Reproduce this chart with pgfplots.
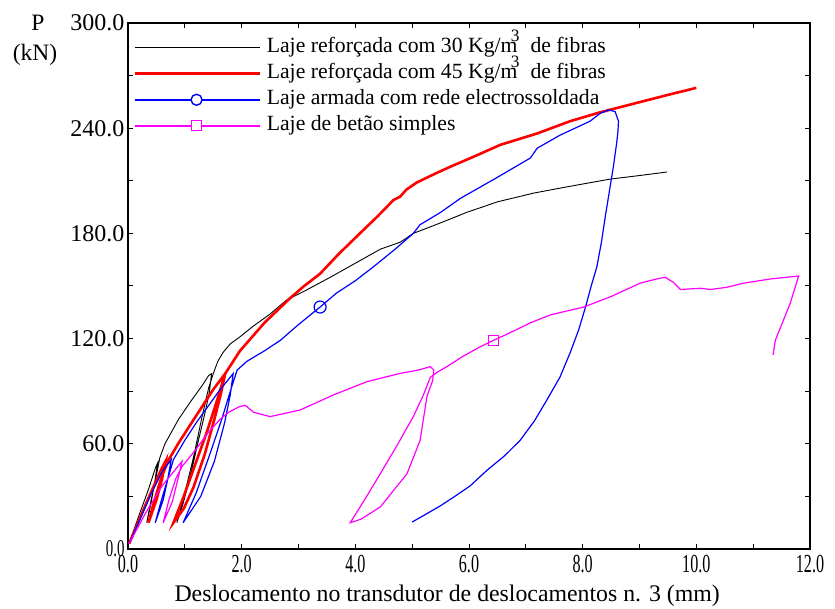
\documentclass[border=0pt]{standalone}
\usepackage{fontspec}
\setmainfont{Liberation Serif}
\usepackage{pgfplots}
\pgfplotsset{compat=1.18}

\definecolor{mag}{RGB}{255,0,255}
\definecolor{blu}{RGB}{0,0,255}
\definecolor{rd}{RGB}{255,0,0}

\pgfplotsset{
  longline/.style={legend image code/.code={\draw[##1] (0pt,0pt)--(125pt,0pt); \path (130pt,0pt);}},
  circleline/.style={legend image code/.code={\draw[##1,line width=1.5pt] (0pt,0pt)--(125pt,0pt);
     \draw[##1,line width=1.4pt,fill=white] (62pt,0pt) circle (5.5pt); \path (130pt,0pt);}},
  squareline/.style={legend image code/.code={\draw[##1,line width=1.5pt] (0pt,0pt)--(125pt,0pt);
     \draw[##1,line width=1.4pt,fill=white] (57pt,-5pt) rectangle (67pt,5pt); \path (130pt,0pt);}},
}

\newcommand{\kgm}{Kg/m\hspace{-0.3em}\smash{\raisebox{0.5em}{\scalebox{0.8}{3}}}\hspace{0.5em}}
\newcommand{\narrow}[1]{\scalebox{0.62}[1]{#1}}

\begin{document}
\begin{tikzpicture}
\useasboundingbox (0,0) rectangle (835pt,608pt);
\begin{axis}[
    at={(128pt,59pt)}, anchor=south west,
    scale only axis, width=682pt, height=526pt,
    xmin=0, xmax=12, ymin=0, ymax=300,
    xtick={0,2,...,12}, ytick={0,60,...,300},
    minor x tick num=1, minor y tick num=1,
    tick align=inside, major tick length=5pt, minor tick length=5pt,
    axis line style={line width=1.5pt},
    tick style={line width=1pt, black},
    scaled ticks=false,
    xticklabel={\narrow{\pgfmathprintnumber[fixed,fixed zerofill,precision=1,assume math mode=true]{\tick}}},
    xticklabel style={font=\fontsize{26}{28}\selectfont, yshift=-3pt},
    yticklabels={\narrow{0.0},60.0,120.0,180.0,240.0,300.0},
    yticklabel style={font=\fontsize{24}{26}\selectfont},
    xlabel={Deslocamento no transdutor de deslocamentos n. 3 (mm)},
    xlabel style={at={(0.468,-0.089)}, anchor=center, font=\fontsize{23.8}{26}\selectfont},
    legend cell align=left,
    legend style={draw=none, fill=none, at={(0.003,0.978)}, anchor=north west,
        row sep=4pt, font=\fontsize{21.7}{25}\selectfont,
        nodes={inner sep=1pt, text height=15pt, text depth=5pt}},
]
% 30 kg/m3
\addplot[black, line width=0.9pt, longline]
coordinates {
(0.02,3) (0.18,18) (0.36,34) (0.48,46) (0.52,49) (0.47,38) (0.4,25) (0.33,15)
(0.4,27) (0.5,42) (0.56,52) (0.65,60) (0.89,74) (1.1,84) (1.3,93) (1.42,99)
(1.47,100) (1.43,89) (1.35,77) (1.24,62) (1.1,42) (0.97,26) (0.86,15)
(1.0,32) (1.15,52) (1.3,75) (1.42,92) (1.5,100) (1.58,107) (1.67,112) (1.8,117)
(1.97,121) (2.2,127) (2.5,134) (2.79,142) (3.1,147) (3.56,155) (4.0,163) (4.44,171)
(4.79,175) (5.02,180) (5.5,186) (5.96,192) (6.5,198) (7.14,203) (7.8,207)
(8.49,211) (9.0,213) (9.48,215)
};
\addlegendentry{Laje reforçada com 30 \kgm de fibras}
% 45 kg/m3
\addplot[rd, line width=2.6pt, longline]
coordinates {
(0.02,3) (0.2,17) (0.4,32) (0.58,45) (0.66,50) (0.6,40) (0.5,28) (0.36,15)
(0.46,27) (0.58,40) (0.7,50) (0.9,61) (1.1,71) (1.3,81) (1.5,91) (1.71,100)
(1.63,88) (1.52,74) (1.35,54) (1.15,35) (0.98,23) (0.8,15)
(0.98,30) (1.18,48) (1.38,66) (1.55,83) (1.71,100) (1.97,113) (2.4,129)
(2.85,143) (3.1,150) (3.38,157) (3.7,168) (4.08,180) (4.4,190) (4.67,199) (4.79,201)
(4.9,205) (5.08,209) (5.4,214) (5.67,218) (6.1,224) (6.55,230.5) (7.2,237)
(7.78,244) (8.3,249) (8.9,254) (9.5,259) (10.0,263)
};
\addlegendentry{Laje reforçada com 45 \kgm de fibras}
% electrowelded mesh
\addplot[blu, line width=1.2pt, circleline]
coordinates {
(0.02,3) (0.2,16) (0.4,31) (0.6,44) (0.76,51) (0.7,40) (0.62,28) (0.48,15)
(0.58,27) (0.7,40) (0.8,51) (1.0,62) (1.2,72) (1.4,81) (1.6,90) (1.75,96)
(1.85,100) (1.8,88) (1.7,72) (1.52,50) (1.28,30) (0.97,15)
(1.2,32) (1.45,55) (1.66,75) (1.8,90) (1.92,102) (2.09,107) (2.4,113)
(2.68,119) (3.0,128) (3.38,138) (3.67,146) (4.0,153) (4.32,161) (4.7,171)
(5.02,180) (5.14,185) (5.5,192) (5.85,200) (6.5,212) (7.08,223) (7.2,228.6)
(7.6,236) (8.13,244) (8.31,248.5) (8.46,250.4) (8.57,249.5) (8.63,244)
(8.62,238) (8.6,232) (8.54,218) (8.47,204) (8.4,190) (8.33,175) (8.25,161)
(8.15,150) (8.05,138) (7.93,125) (7.78,112) (7.6,98) (7.37,85) (7.15,73)
(6.9,62) (6.62,53) (6.32,45) (6.02,36) (5.75,30) (5.49,24.5) (5.25,20) (5.0,15.4)
};
\addlegendentry{Laje armada com rede electrossoldada}
% plain concrete
\addplot[mag, line width=1.2pt, squareline]
coordinates {
(0.02,3) (0.3,20) (0.6,36) (0.85,46) (0.95,50) (0.88,40) (0.78,27) (0.62,15)
(0.72,28) (0.84,40) (0.95,47) (1.2,57) (1.4,66) (1.62,74) (1.77,78) (1.95,81)
(2.06,82) (2.21,78) (2.5,75.5) (3.03,79.3) (3.61,87.8) (4.2,95.4) (4.79,100.2)
(5.1,102) (5.32,104) (5.38,102) (5.36,96) (5.26,87) (5.14,62) (4.91,43)
(4.44,24) (4.1,17) (3.91,15) (4.2,30) (4.44,43) (4.75,60)
(5.02,75.5) (5.2,88) (5.32,98) (5.45,101) (5.61,104) (5.9,110) (6.2,115.4)
(6.43,119) (6.7,123) (7.08,129) (7.43,133.5) (8.02,138) (8.5,144) (9.01,151.6)
(9.3,154) (9.45,155) (9.6,152) (9.72,148) (10.07,148.7) (10.25,148)
(10.54,149.3) (10.83,151.6) (11.3,154) (11.8,155.7) (11.65,140) (11.39,119)
(11.35,110.7)
};
\addlegendentry{Laje de betão simples}
% single markers on the curves
\addplot[forget plot, only marks, blu, mark=o, mark size=6pt,
  mark options={line width=1.2pt, fill=white}] coordinates {(3.38,138)};
\addplot[forget plot, only marks, mag, mark=square, mark size=5pt,
  mark options={line width=1.2pt, fill=white}] coordinates {(6.43,119)};
\end{axis}
\node[font=\fontsize{23.5}{26}\selectfont] at (38pt,585pt) {P};
\node[font=\fontsize{23.5}{26}\selectfont] at (35pt,553pt) {(kN)};
\end{tikzpicture}
\end{document}
